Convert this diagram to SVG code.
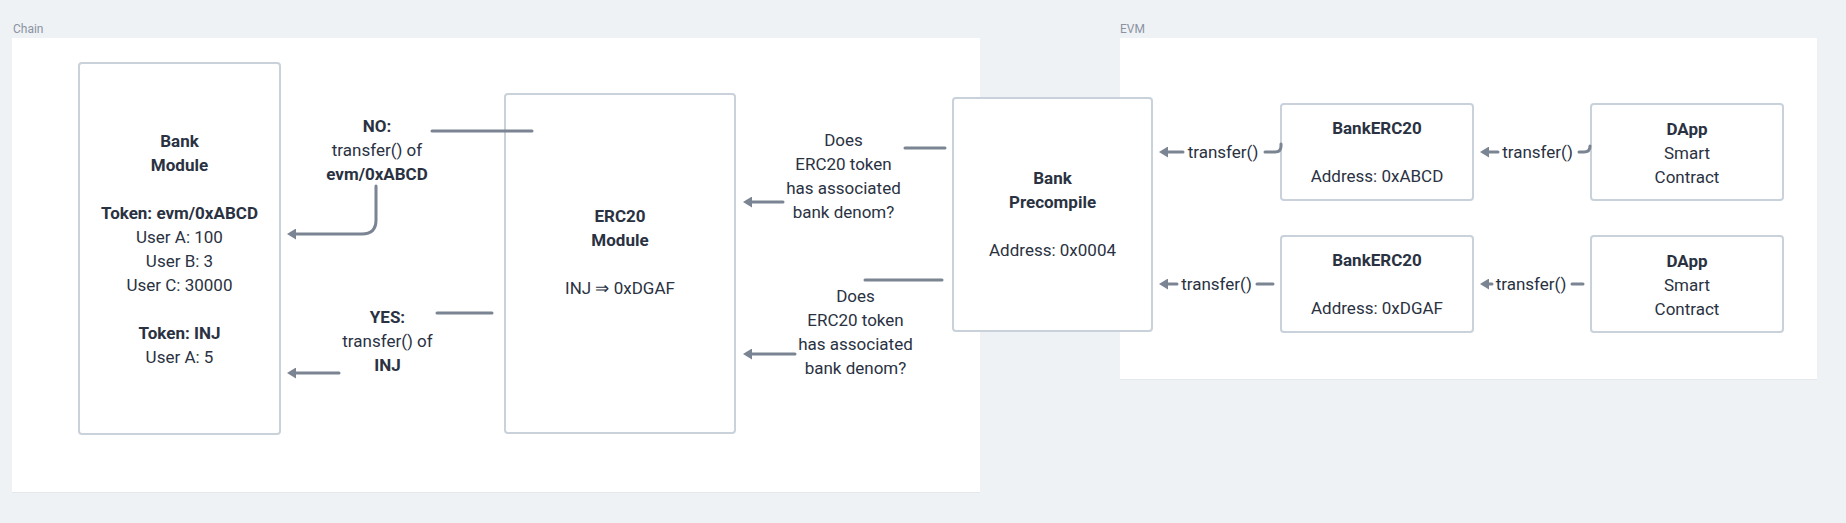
<svg xmlns="http://www.w3.org/2000/svg" width="1846" height="523" viewBox="0 0 1846 523">
<style>
.bg{fill:#eff2f5}
.panel{fill:#ffffff}
.plabel{font-family:Roboto,"Liberation Sans",sans-serif;font-size:12px;fill:#8a93a1}
.box{fill:#ffffff;stroke:#c9d1da;stroke-width:2}
.t{font-family:Roboto,"Liberation Sans",sans-serif;font-size:17px;fill:#2a3242;text-anchor:middle}
.b{font-weight:bold}
.ln{fill:none;stroke:#7a8492;stroke-width:3;stroke-linecap:round;stroke-linejoin:round}
</style>
<defs>
<marker id="ah" markerUnits="userSpaceOnUse" markerWidth="10" markerHeight="11" viewBox="0 0 10 11" refX="4" refY="5.5" orient="auto">
<path d="M0,0 L9,5.5 L0,11 Z" fill="#7a8492"/>
</marker>
</defs>
<rect class="bg" x="0" y="0" width="1846" height="523"/>
<g id="chain-panel">
<rect x="12" y="39" width="968" height="454" fill="#e4e8ed"/>
<rect class="panel" x="12" y="38" width="968" height="454"/>
<text class="plabel" x="13" y="33">Chain</text>
</g>
<g id="evm-panel">
<rect x="1120" y="39" width="697" height="341" fill="#e4e8ed"/>
<rect class="panel" x="1120" y="38" width="697" height="341"/>
<text class="plabel" x="1120" y="33">EVM</text>
</g>
<g id="bank-module">
<rect class="box" x="79" y="63" width="201" height="371" rx="3"/>
<text class="t b" x="179.5" y="147">Bank</text>
<text class="t b" x="179.5" y="171">Module</text>
<text class="t b" x="179.5" y="219">Token: evm/0xABCD</text>
<text class="t" x="179.5" y="243">User A: 100</text>
<text class="t" x="179.5" y="267">User B: 3</text>
<text class="t" x="179.5" y="291">User C: 30000</text>
<text class="t b" x="179.5" y="339">Token: INJ</text>
<text class="t" x="179.5" y="363">User A: 5</text>
</g>
<g id="erc20-module">
<rect class="box" x="505" y="94" width="230" height="339" rx="3"/>
<text class="t b" x="620" y="222">ERC20</text>
<text class="t b" x="620" y="246">Module</text>
<text class="t" x="620" y="294">INJ ⇒ 0xDGAF</text>
</g>
<g id="bank-precompile">
<rect class="box" x="953" y="98" width="199" height="233" rx="3"/>
<text class="t b" x="1052.5" y="184">Bank</text>
<text class="t b" x="1052.5" y="208">Precompile</text>
<text class="t" x="1052.5" y="256">Address: 0x0004</text>
</g>
<g id="bankerc20-abcd">
<rect class="box" x="1281" y="104" width="192" height="96" rx="3"/>
<text class="t b" x="1377" y="134">BankERC20</text>
<text class="t" x="1377" y="182">Address: 0xABCD</text>
</g>
<g id="bankerc20-dgaf">
<rect class="box" x="1281" y="236" width="192" height="96" rx="3"/>
<text class="t b" x="1377" y="266">BankERC20</text>
<text class="t" x="1377" y="314">Address: 0xDGAF</text>
</g>
<g id="dapp-1">
<rect class="box" x="1591" y="104" width="192" height="96" rx="3"/>
<text class="t b" x="1687" y="135">DApp</text>
<text class="t" x="1687" y="159">Smart</text>
<text class="t" x="1687" y="183">Contract</text>
</g>
<g id="dapp-2">
<rect class="box" x="1591" y="236" width="192" height="96" rx="3"/>
<text class="t b" x="1687" y="267">DApp</text>
<text class="t" x="1687" y="291">Smart</text>
<text class="t" x="1687" y="315">Contract</text>
</g>
<g id="connectors">
<path class="ln" d="M532,131 L432,131"/>
<path class="ln" d="M376,186 L376,220 Q376,234 362,234 L292,234" marker-end="url(#ah)"/>
<text class="t b" x="377" y="132">NO:</text>
<text class="t" x="377" y="156">transfer() of</text>
<text class="t b" x="377" y="180">evm/0xABCD</text>

<path class="ln" d="M492,313 L437,313"/>
<path class="ln" d="M339,373 L292,373" marker-end="url(#ah)"/>
<text class="t b" x="387.5" y="323">YES:</text>
<text class="t" x="387.5" y="347">transfer() of</text>
<text class="t b" x="387.5" y="371">INJ</text>

<path class="ln" d="M945,148 L905,148"/>
<path class="ln" d="M783,202 L748,202" marker-end="url(#ah)"/>
<text class="t" x="843.5" y="146">Does</text>
<text class="t" x="843.5" y="170">ERC20 token</text>
<text class="t" x="843.5" y="194">has associated</text>
<text class="t" x="843.5" y="218">bank denom?</text>

<path class="ln" d="M942,280 L865,280"/>
<path class="ln" d="M795,354 L748,354" marker-end="url(#ah)"/>
<text class="t" x="855.5" y="302">Does</text>
<text class="t" x="855.5" y="326">ERC20 token</text>
<text class="t" x="855.5" y="350">has associated</text>
<text class="t" x="855.5" y="374">bank denom?</text>

<path class="ln" d="M1281,144 L1281,146 Q1281,152 1275,152 L1265,152"/>
<path class="ln" d="M1183,152 L1164,152" marker-end="url(#ah)"/>
<text class="t" x="1223" y="158">transfer()</text>

<path class="ln" d="M1273,284 L1257,284"/>
<path class="ln" d="M1177,284 L1164,284" marker-end="url(#ah)"/>
<text class="t" x="1216.5" y="290">transfer()</text>

<path class="ln" d="M1590,146 Q1590,152 1584,152 L1579,152"/>
<path class="ln" d="M1498,152 L1485,152" marker-end="url(#ah)"/>
<text class="t" x="1537.5" y="158">transfer()</text>

<path class="ln" d="M1583,284 L1572,284"/>
<path class="ln" d="M1492,284 L1485,284" marker-end="url(#ah)"/>
<text class="t" x="1531" y="290">transfer()</text>
</g>
</svg>
